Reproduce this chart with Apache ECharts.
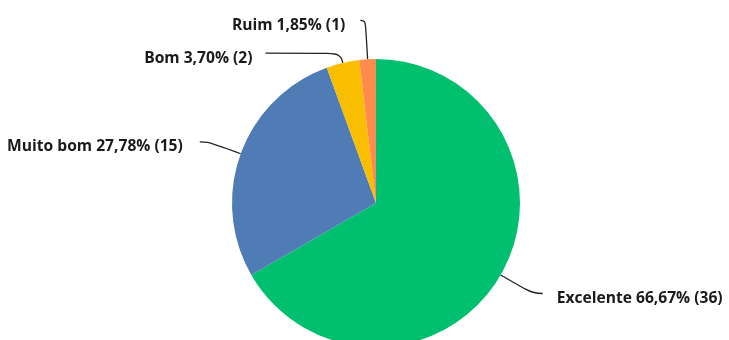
<!DOCTYPE html>
<html>
<head>
<meta charset="utf-8">
<script src="https://cdn.jsdelivr.net/npm/echarts@6/dist/echarts.min.js"></script>
<style>html,body{margin:0;padding:0;background:#fff}#c{width:729px;height:340px}</style>
</head>
<body>
<div id="c"></div>
<script>
const categories = ['Excelente', 'Muito bom', 'Bom', 'Ruim'];
const counts = [36, 15, 2, 1];
const colors = ['#00BF6F', '#507CB6', '#F9BE00', '#FF8B4F'];
const lineLengths = [37, 35, 10, 39];
const lineLengths2 = [10, 8, 75, 5];
const labelGaps = [14, 17, 13, 15];

const chart = echarts.init(document.getElementById('c'), null, {renderer: 'canvas'});
const data = categories.map((name, i) => ({
  name: name,
  value: counts[i],
  itemStyle: {color: colors[i]},
  labelLine: {length: lineLengths[i], length2: lineLengths2[i]},
  label: {distanceToLabelLine: labelGaps[i]}
}));
chart.setOption({
  animation: false,
  series: [{
    type: 'pie',
    center: [376, 203],
    radius: 144,
    startAngle: 90,
    clockwise: true,
    avoidLabelOverlap: false,
    data: data,
    itemStyle: {borderWidth: 0},
    label: {
      show: true,
      position: 'outside',
      color: '#1a1a1a',
      fontFamily: 'Open Sans',
      fontWeight: 'bold',
      fontSize: 15.6,
      formatter: p => p.name + ' ' + p.percent.toFixed(2).replace('.', ',') + '% (' + p.value + ')'
    },
    labelLayout: function () { return {dy: 5}; },
    labelLine: {
      show: true,
      smooth: 0.5,
      lineStyle: {color: '#222', width: 1.3}
    },
    percentPrecision: 2
  }]
});
</script>
</body>
</html>
